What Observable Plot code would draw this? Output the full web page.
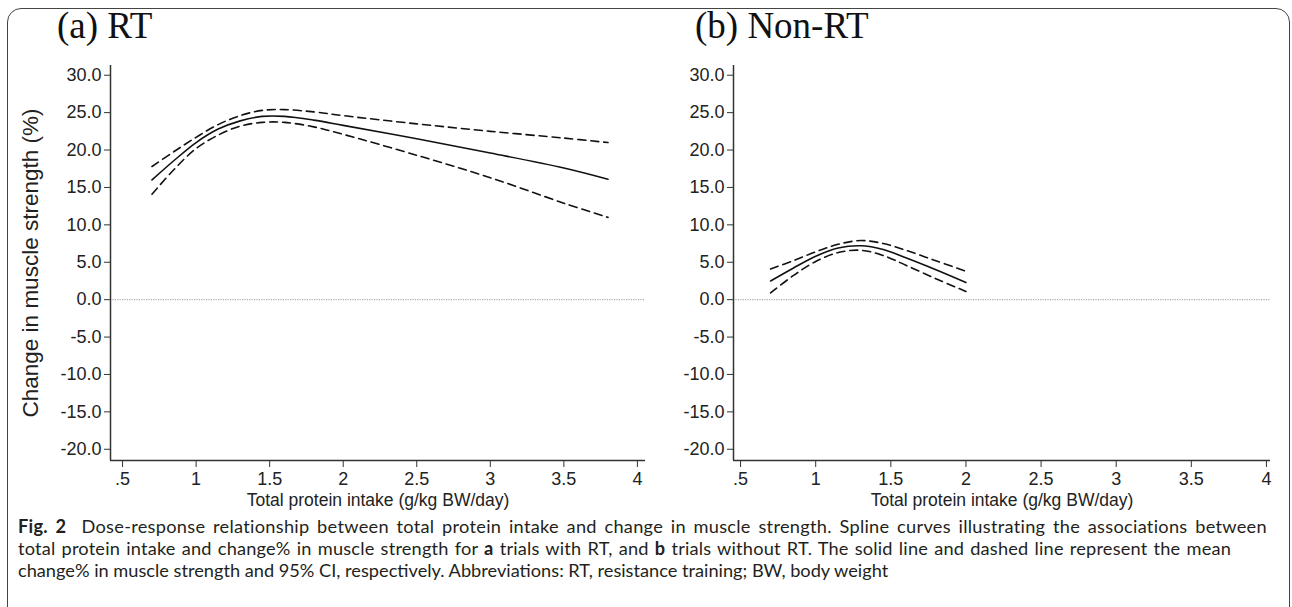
<!DOCTYPE html>
<html>
<head>
<meta charset="utf-8">
<script src="https://cdn.jsdelivr.net/npm/d3@7"></script>
<script src="https://cdn.jsdelivr.net/npm/@observablehq/plot@0.6"></script>
<style>
  html, body { margin: 0; padding: 0; background: #fff; }
  #page { position: relative; width: 1292px; height: 607px; overflow: hidden; background: #fff; }
  #frame { position: absolute; left: 7px; top: 8px; width: 1283px; height: 640px;
           border: 1.5px solid #444; border-radius: 14px 14px 0 0; box-sizing: border-box; }
  .title { position: absolute; font-family: "Liberation Serif", "Times New Roman", serif; font-size: 37px;
           line-height: 1; color: #111; white-space: nowrap; }
  .panel { position: absolute; top: 0; }
  .cap { position: absolute; left: 18px; font-family: Lato, "Open Sans", sans-serif;
         font-size: 18.2px; line-height: 22px; height: 22px; color: #231f20; white-space: nowrap; }
  .cap b { font-weight: 700; }
</style>
</head>
<body>
<div id="page">
  <div id="frame"></div>
  <div class="title" id="titleA" style="left:57px; top:7px;">(a) RT</div>
  <div class="title" id="titleB" style="left:695px; top:7px;">(b) Non-RT</div>
  <div class="panel" id="panelA" style="left:0px;"></div>
  <div class="panel" id="panelB" style="left:640px;"></div>
  <div class="cap" id="cap1" style="top:515px;"><span><b>Fig. 2</b>&nbsp; Dose-response relationship between total protein intake and change in muscle strength. Spline curves illustrating the associations between</span></div>
  <div class="cap" id="cap2" style="top:537px;"><span>total protein intake and change% in muscle strength for <b>a</b> trials with RT, and <b>b</b> trials without RT. The solid line and dashed line represent the mean</span></div>
  <div class="cap" id="cap3" style="top:559px;"><span>change% in muscle strength and 95% CI, respectively. Abbreviations: RT, resistance training; BW, body weight</span></div>
</div>
<script>
// ---- data ----
const rtX     = [0.7, 0.85, 1.0, 1.15, 1.3, 1.45, 1.6, 1.8, 2.0, 2.5, 3.0, 3.5, 3.8];
const rtMean  = [16.0, 18.6, 21.0, 22.8, 23.9, 24.5, 24.5, 24.0, 23.3, 21.5, 19.6, 17.6, 16.1];
const rtUpper = [17.8, 19.8, 21.7, 23.4, 24.6, 25.3, 25.4, 25.1, 24.6, 23.5, 22.5, 21.6, 21.0];
const rtLower = [14.1, 17.4, 20.2, 22.0, 23.2, 23.7, 23.7, 23.1, 22.1, 19.3, 16.3, 12.9, 11.0];

const nonX     = [0.7, 0.85, 1.0, 1.15, 1.3, 1.45, 1.6, 1.8, 2.0];
const nonMean  = [2.5, 4.2, 5.8, 6.9, 7.2, 6.7, 5.6, 4.0, 2.3];
const nonUpper = [4.1, 5.2, 6.4, 7.4, 7.9, 7.5, 6.6, 5.2, 3.8];
const nonLower = [0.9, 3.2, 5.1, 6.3, 6.6, 5.9, 4.6, 2.8, 1.1];

const yTicks = [30, 25, 20, 15, 10, 5, 0, -5, -10, -15, -20];
const xTicks = [0.5, 1, 1.5, 2, 2.5, 3, 3.5, 4];
const xTickLabels = [".5", "1", "1.5", "2", "2.5", "3", "3.5", "4"];
const yLabel = "Change in muscle strength (%)";
const xLabel = "Total protein intake (g/kg BW/day)";

const xDomainA = [0.418, 4.055];
const xDomainB = [0.453, 4.027];
const yDomain = [-21.5, 31.3];

function rows(xs, mean, lower, upper) {
  const out = [];
  xs.forEach((x, i) => {
    out.push({x, y: mean[i], s: "mean"});
    out.push({x, y: lower[i], s: "lower"});
    out.push({x, y: upper[i], s: "upper"});
  });
  return out;
}

function panel(data, xDomain, opts) {
  const font = "'Liberation Sans', Arial, sans-serif";
  return Plot.plot({
    width: opts.width, height: 520,
    marginLeft: opts.marginLeft, marginRight: 5, marginTop: 65, marginBottom: 60,
    style: {fontFamily: font, color: "#222", background: "transparent", overflow: "visible"},
    x: {domain: xDomain},
    y: {domain: yDomain},
    marks: [
      Plot.ruleY([0], {stroke: "#999", strokeWidth: 1, strokeDasharray: "1.2,1.2"}),
      Plot.line(data.filter(d => d.s === "mean"), {x: "x", y: "y", stroke: "#111", strokeWidth: 1.6, curve: "catmull-rom"}),
      Plot.line(data.filter(d => d.s !== "mean"), {x: "x", y: "y", z: "s", stroke: "#111", strokeWidth: 1.6, strokeDasharray: "8,5", curve: "catmull-rom"}),
      Plot.ruleX([xDomain[0]], {stroke: "#333", strokeWidth: 1.5}),
      Plot.ruleY([yDomain[0]], {stroke: "#333", strokeWidth: 1.5}),
      Plot.axisY({ticks: yTicks, tickFormat: d => d.toFixed(1), tickSize: 6, tickPadding: 3, fontSize: 18,
                  stroke: "#333", fill: "#222",
                  label: opts.yLabel ? yLabel : null, labelAnchor: "center", labelArrow: "none", labelOffset: 88}),
      Plot.axisX({ticks: xTicks, tickFormat: (d, i) => xTickLabels[i], tickSize: 7, tickPadding: 5, fontSize: 18,
                  stroke: "#333", fill: "#222",
                  label: xLabel, labelAnchor: "center", labelArrow: "none", labelOffset: 45})
    ]
  });
}

const a = panel(rows(rtX, rtMean, rtLower, rtUpper), xDomainA, {width: 650, marginLeft: 110, yLabel: true});
const b = panel(rows(nonX, nonMean, nonLower, nonUpper), xDomainB, {width: 635, marginLeft: 93, yLabel: false});
document.getElementById("panelA").appendChild(a);
document.getElementById("panelB").appendChild(b);

for (const svg of [a, b]) {
  svg.querySelectorAll('g[aria-label="x-axis label"] text, g[aria-label="y-axis label"] text').forEach(t => {
    t.setAttribute("font-size", t.closest('g[aria-label="y-axis label"]') ? "22.5" : "17.5");
  });
}

// stretch the first two caption lines to the reference line lengths (layout only); last line stays natural
const capTargets = {cap1: 1250, cap2: 1213};
for (const [id, target] of Object.entries(capTargets)) {
  const span = document.querySelector("#" + id + " span");
  const w = span.getBoundingClientRect().width;
  const text = span.textContent.trim();
  const chars = text.length;
  const spaces = (text.match(/[ \u00a0]/g) || []).length;
  if (target > w && spaces > 0) {
    const extra = target - w;
    span.style.letterSpacing = (0.45 * extra / chars).toFixed(3) + "px";
    span.style.wordSpacing = (0.55 * extra / spaces).toFixed(2) + "px";
  }
}
</script>
</body>
</html>
